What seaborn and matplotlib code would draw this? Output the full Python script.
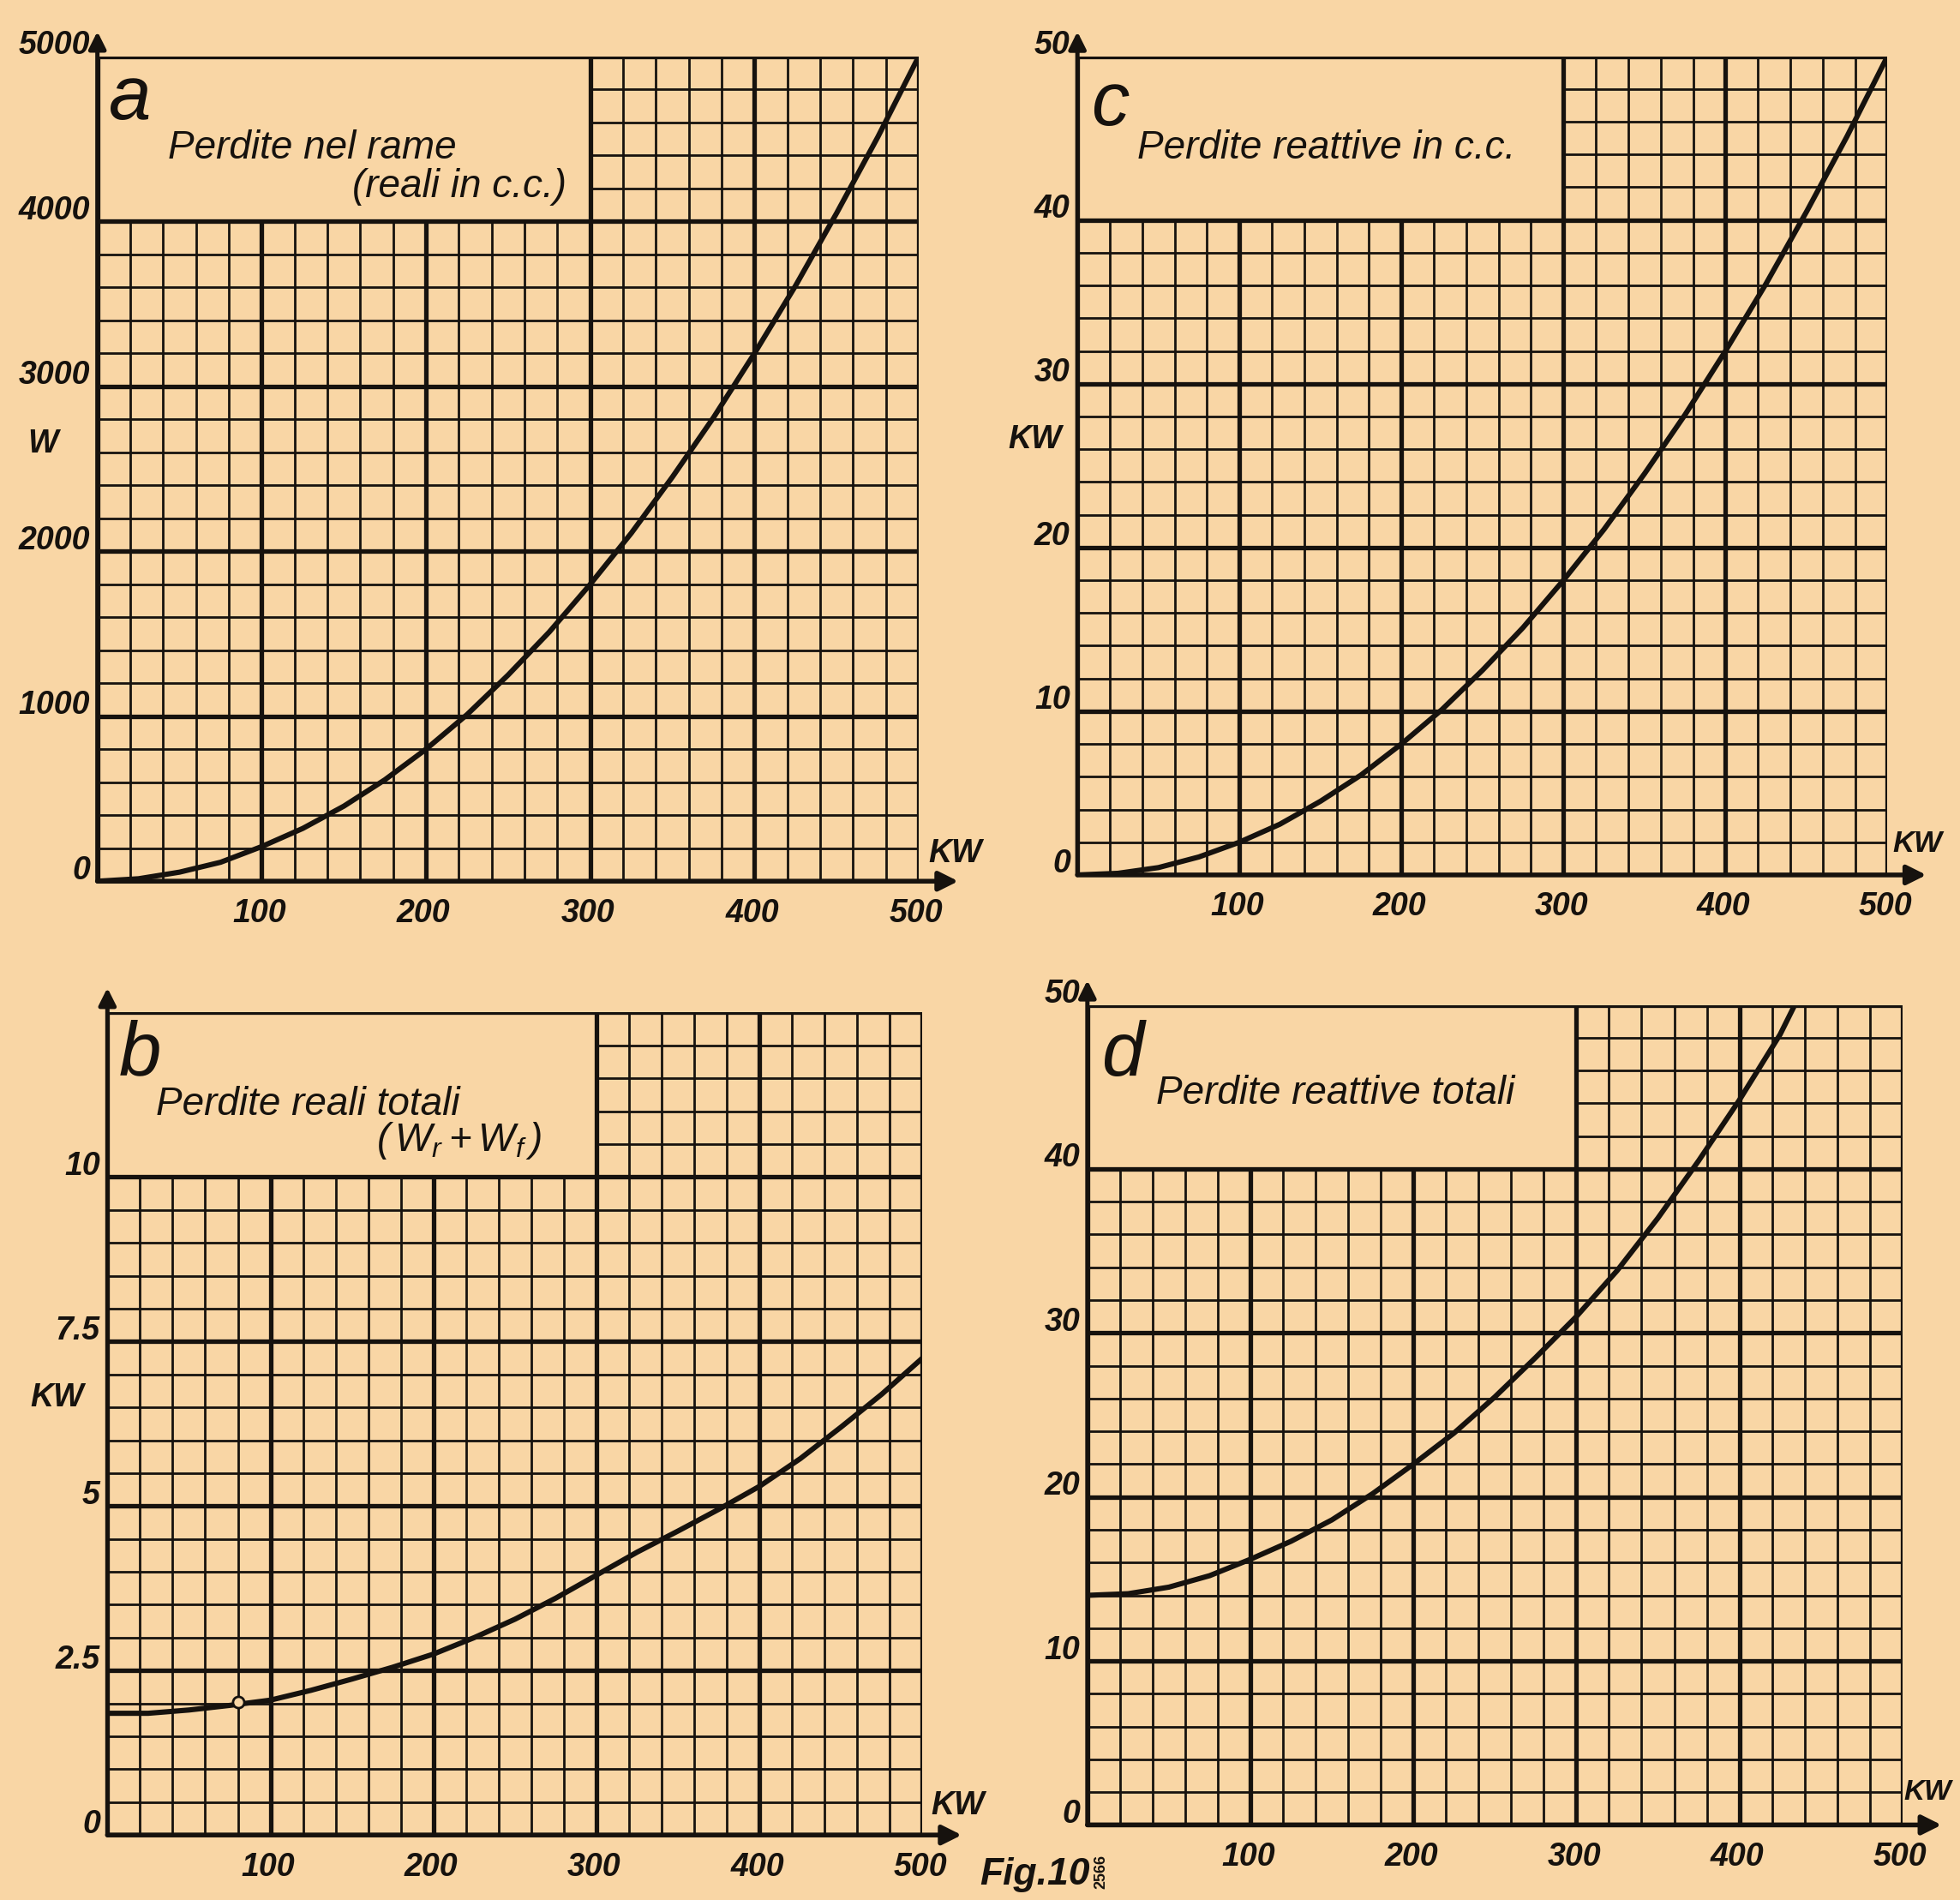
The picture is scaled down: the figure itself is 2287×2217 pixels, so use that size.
import matplotlib
matplotlib.use('Agg')
import matplotlib.pyplot as plt
import matplotlib.transforms as mtransforms
import seaborn as sns
import numpy as np
import pandas as pd

# values (x in KW)
kw = [0, 25, 50, 75, 100, 125, 150, 175, 200, 225, 250, 275, 300,
      325, 350, 375, 400, 425, 450, 475, 500]
rame_w = [0, 15, 55, 115, 210, 320, 455, 615, 800, 1010, 1250, 1510, 1800,
          2110, 2450, 2810, 3200, 3610, 4050, 4510, 5000]
reattive_cc = [0, 0.1, 0.45, 1.1, 2.0, 3.1, 4.5, 6.1, 8.0, 10.1, 12.5, 15.1, 18.0,
               21.1, 24.5, 28.1, 32.0, 36.1, 40.5, 45.1, 50.0]
reali_tot = [1.85, 1.85, 1.9, 1.97, 2.05, 2.2, 2.37, 2.55, 2.75, 3.0, 3.28, 3.6, 3.95,
             4.3, 4.62, 4.95, 5.3, 5.72, 6.2, 6.7, 7.25]
kw_d = [0, 25, 50, 75, 100, 125, 150, 175, 200, 225, 250, 275, 300,
        325, 350, 375, 400, 425, 434]
reattive_tot = [14.0, 14.1, 14.5, 15.2, 16.2, 17.3, 18.6, 20.2, 22.0, 23.9, 26.1, 28.5, 31.0,
                33.8, 37.0, 40.5, 44.2, 48.2, 50.0]

x_ticks = [100, 200, 300, 400, 500]
yticks_a = [0, 1000, 2000, 3000, 4000, 5000]
yticks_b = [0, 2.5, 5, 7.5, 10]
yticks_c = [0, 10, 20, 30, 40, 50]
yticks_d = [0, 10, 20, 30, 40, 50]
ylabels_b = ['0', '2.5', '5', '7.5', '10']

BG = '#F9D6A5'
INK = '#16120e'
FAM = ['Liberation Sans', 'DejaVu Sans']

sns.set_style('white')
plt.rcParams['font.family'] = FAM
plt.rcParams['mathtext.fontset'] = 'custom'
plt.rcParams['mathtext.it'] = 'Liberation Sans:italic'
plt.rcParams['mathtext.rm'] = 'Liberation Sans:italic'

fig = plt.figure(figsize=(22.87, 22.17), dpi=100, facecolor=BG)


def grid_paper(ax, ytop, ystep, ymajor, ybox):
    # graph paper with the title box cut out of the top-left corner
    for x in np.arange(0, 501, 20):
        lw = 3.8 if x % 100 == 0 else 2.0
        top = ytop if (x >= 300 or x == 0) else ybox
        ax.vlines(x, 0, top, color=INK, lw=lw, zorder=1)
    n = int(round(ytop / ystep))
    for i in range(n + 1):
        y = i * ystep
        lw = 3.8 if abs(y / ymajor - round(y / ymajor)) < 1e-6 else 2.0
        x0 = 0 if (y <= ybox + 1e-9 or i == n) else 300
        ax.hlines(y, x0, 500, color=INK, lw=lw, zorder=1)


def panel(rect, xs, ys, ytop, ystep, ymajor, ybox, yticks, ylabels,
          letter, title, sub, ylab, ylab_pos, letter_pos, title_pos, sub_pos, kwpos):
    ax = fig.add_axes(rect)
    ax.set_facecolor(BG)
    grid_paper(ax, ytop, ystep, ymajor, ybox)
    df = pd.DataFrame({'kw': xs, 'val': ys})
    sns.lineplot(data=df, x='kw', y='val', ax=ax, color=INK, lw=4.4, zorder=3)
    ax.set_xlim(0, 500)
    ax.set_ylim(0, ytop)
    ax.axis('off')
    # axes with arrows
    ax.annotate('', xy=(524, 0), xytext=(0, 0), annotation_clip=False,
                arrowprops=dict(arrowstyle='-|>', lw=4.0, color=INK, mutation_scale=34,
                                shrinkA=0, shrinkB=0))
    ax.annotate('', xy=(0, ytop * 1.03), xytext=(0, 0), annotation_clip=False,
                arrowprops=dict(arrowstyle='-|>', lw=3.6, color=INK, mutation_scale=30,
                                shrinkA=0, shrinkB=0))
    tick = dict(style='italic', weight='bold', size=27, color=INK)
    up = mtransforms.offset_copy(ax.transData, fig=fig, x=-6, y=9, units='points')
    for v, s in zip(yticks, ylabels):
        ax.text(0, v, s, transform=up, ha='right', va='center', clip_on=False, **tick)
    down = mtransforms.offset_copy(ax.transData, fig=fig, x=-2, y=-14, units='points')
    for v in x_ticks:
        ax.text(v, 0, str(v), transform=down, ha='center', va='top', clip_on=False, **tick)
    ax.text(kwpos[0], kwpos[1], 'KW', ha='left', va='center', clip_on=False,
            **{**tick, 'size': kwpos[2]})
    if ylab:
        ax.text(ylab_pos[0], ylab_pos[1], ylab, ha='center', va='center', clip_on=False, **tick)
    ax.text(letter_pos[0], letter_pos[1], letter, ha='center', va='center', style='italic',
            size=64, color=INK)
    ax.text(title_pos[0], title_pos[1], title, ha='left', va='center', style='italic',
            size=33, color=INK)
    if sub:
        ax.text(sub_pos[0], sub_pos[1], sub, ha='left', va='center', style='italic',
                size=33, color=INK)
    return ax


panel([0.0497, 0.5362, 0.4191, 0.4342], kw, rame_w, 5000, 200, 1000, 4000,
      yticks_a, [str(v) for v in yticks_a], 'a', 'Perdite nel rame', '(reali in c.c.)',
      'W', (-33, 2650), (20, 4740), (43, 4440), (155, 4210), (506, 170, 27))

panel([0.5497, 0.5395, 0.4133, 0.4309], kw, reattive_cc, 50, 2, 10, 40,
      yticks_c, [str(v) for v in yticks_c], 'c', 'Perdite reattive in c.c.', None,
      'KW', (-26, 26.6), (20, 47.0), (37, 44.4), None, (503, 1.9, 25))

ax_b = panel([0.0548, 0.0342, 0.4159, 0.4329], kw, reali_tot, 12.5, 0.5, 2.5, 10,
             yticks_b, ylabels_b, 'b', 'Perdite reali totali', r'$(\,W_r + W_f\,)$',
             'KW', (-31, 6.65), (20, 11.85), (30, 11.1), (165, 10.55), (505, 0.45, 27))
sns.scatterplot(x=[80], y=[2.02], ax=ax_b, s=90, facecolor=BG, edgecolor=INK,
                linewidth=2, zorder=4)

panel([0.5548, 0.0395, 0.4158, 0.4316], kw_d, reattive_tot, 50, 2, 10, 40,
      yticks_d, [str(v) for v in yticks_d], 'd', 'Perdite reattive totali', None,
      None, None, (22, 46.9), (42, 44.6), None, (501, 2.0, 24))

fig.text(0.528, 0.004, 'Fig.10', ha='center', va='bottom', style='italic', weight='bold',
         size=32, color=INK)
fig.text(0.562, 0.006, '2566', ha='center', va='bottom', rotation=90, weight='bold',
         size=13, color=INK)

fig.savefig('out.png', dpi=100, facecolor=BG)
